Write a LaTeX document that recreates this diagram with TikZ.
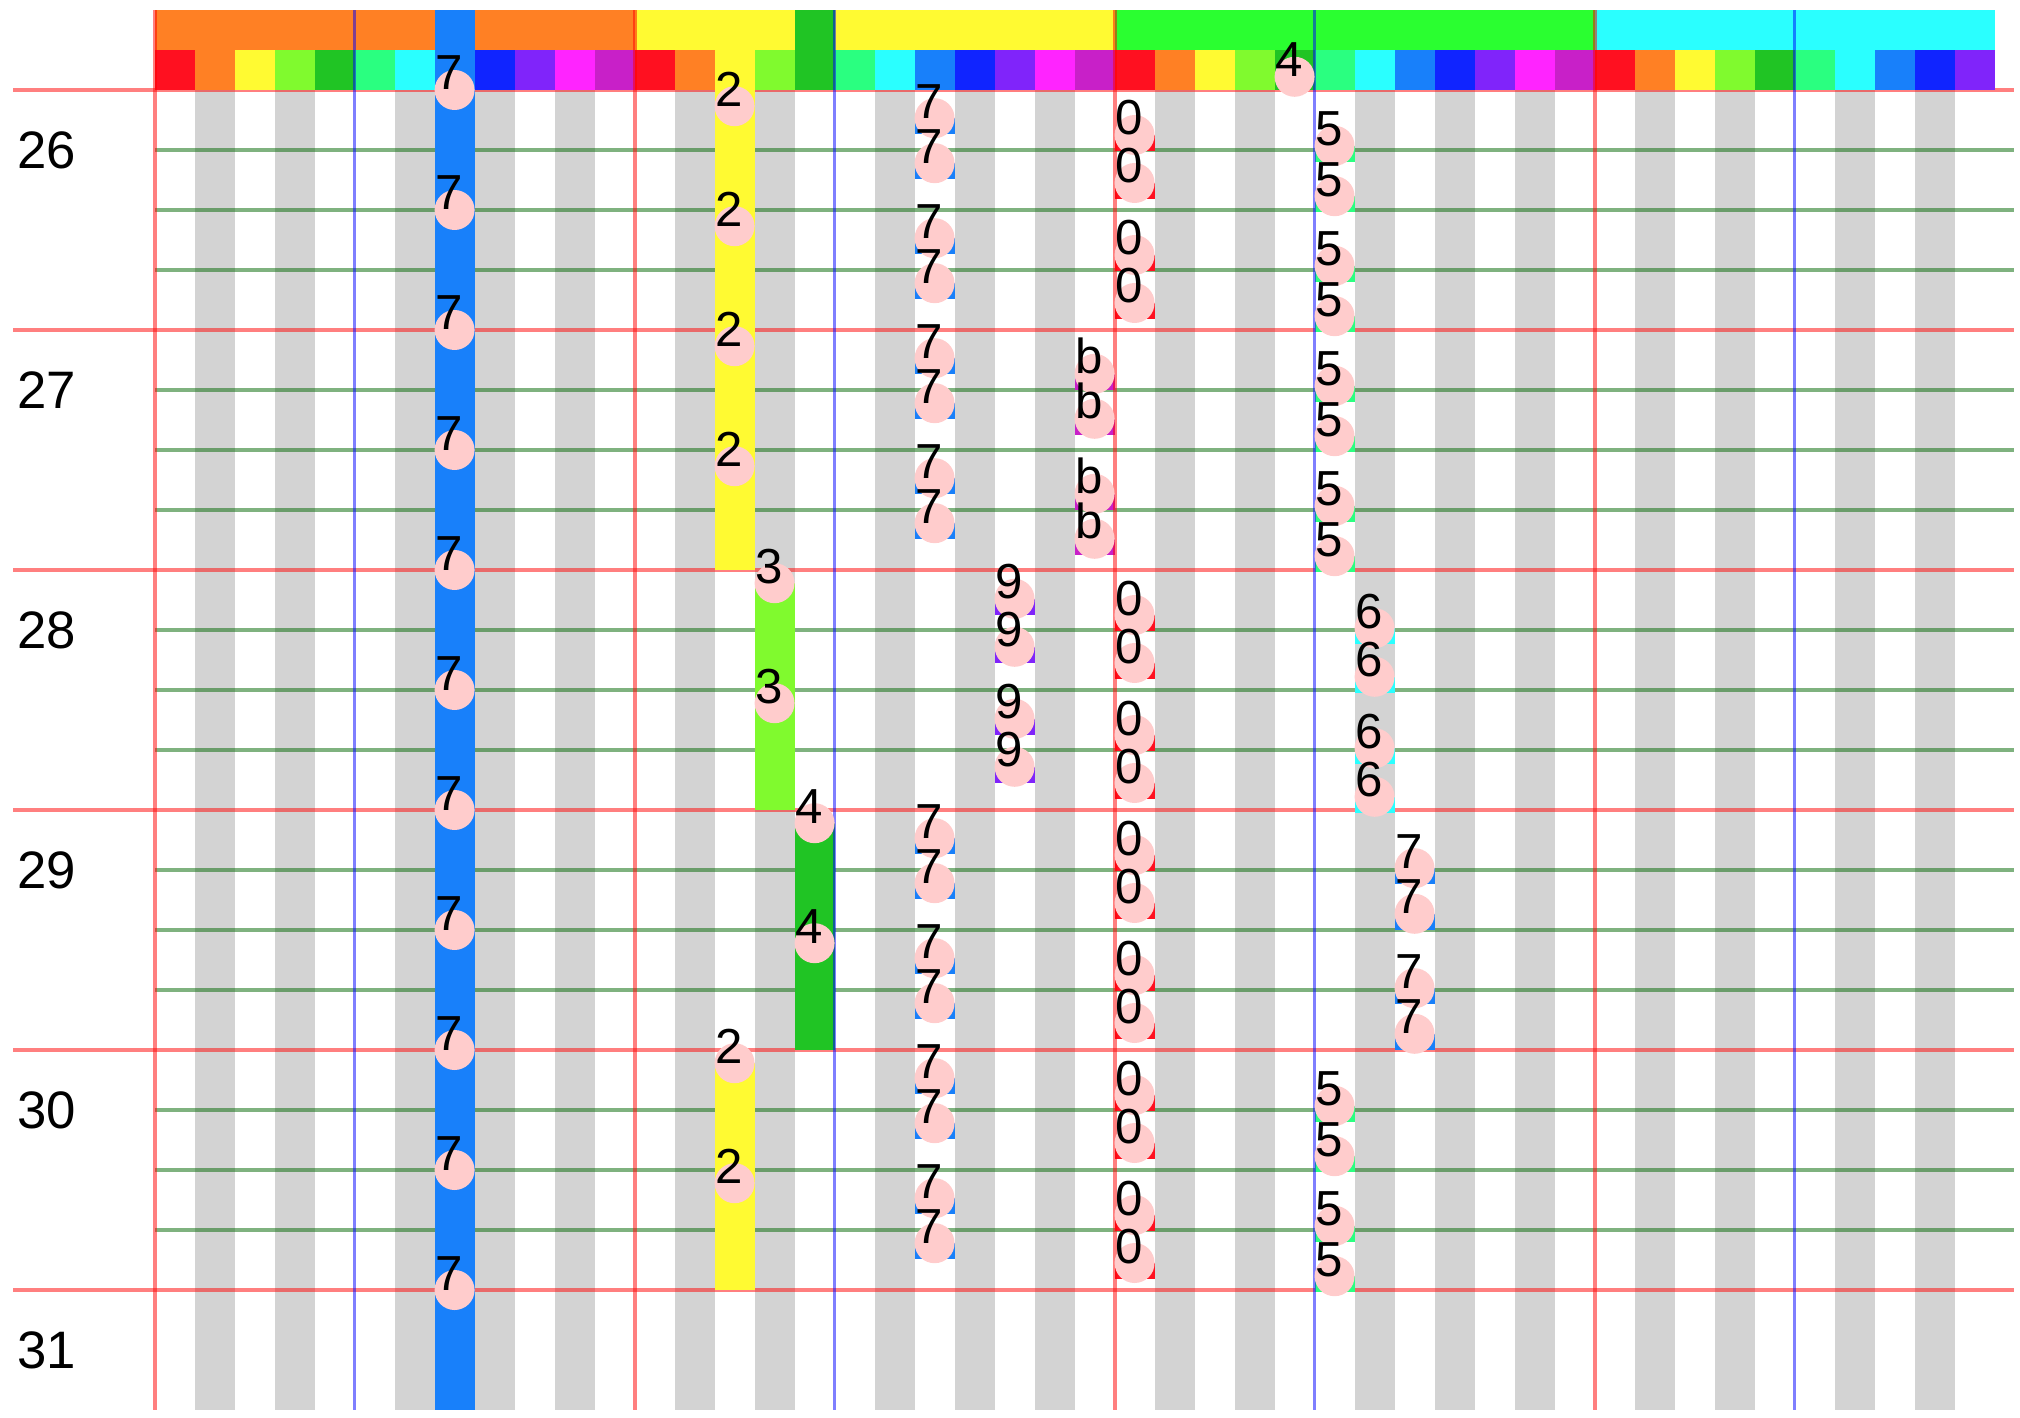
\documentclass[tikz,border=0pt]{standalone}
\usepackage{fontspec}
\setmainfont{Liberation Sans}
\usepackage{tikz}
\usetikzlibrary{positioning}
\definecolor{pc0}{RGB}{255,16,32}
\definecolor{pc1}{RGB}{255,128,36}
\definecolor{pc2}{RGB}{255,250,50}
\definecolor{pc3}{RGB}{128,250,46}
\definecolor{pc4}{RGB}{32,196,36}
\definecolor{pc5}{RGB}{42,255,128}
\definecolor{pc6}{RGB}{42,255,255}
\definecolor{pc7}{RGB}{24,128,250}
\definecolor{pc8}{RGB}{16,36,255}
\definecolor{pc9}{RGB}{128,36,250}
\definecolor{pc10}{RGB}{255,36,255}
\definecolor{pc11}{RGB}{200,32,200}
\definecolor{vert}{RGB}{42,255,48}
\definecolor{touche}{RGB}{211,211,211}
\definecolor{rose}{RGB}{255,204,204}

\begin{document}
\begin{tikzpicture}[font=\fontsize{14}{16}\selectfont,
    notedot/.style={circle,fill=rose,minimum size=0.4cm,inner sep=0pt},
    notelab/.style={anchor=base west,inner sep=0pt},
    rowlab/.style={font=\fontsize{15}{18}\selectfont,inner sep=0pt},
    redline/.style={red,draw opacity=0.5,line width=1.1pt},
    greenline/.style={green!40!black,draw opacity=0.5,line width=0.9pt},
    blueline/.style={blue,draw opacity=0.5,line width=0.8pt}]
\useasboundingbox (0,0) rectangle (20.2,-14.18);
\begin{scope}[shift={(1.546cm,-0.9cm)},x=0.4cm,y=-0.6cm]
% touches noires
\foreach \o in {0,12,24,36}
  \foreach \s in {1,3,6,8,10}{
    \pgfmathtruncatemacro\c{\o+\s}
    \ifnum\c<46 \fill[touche] (\c,0) rectangle (\c+1,22); \fi
  }
% lignes de temps
\foreach \k in {0,...,20}{
  \pgfmathtruncatemacro\m{mod(\k,4)}
  \ifnum\m=0 \draw[redline] (-3.54,\k) -- (46.49,\k);
  \else \draw[greenline] (0,\k) -- (46.49,\k); \fi
}
% en-tete
\fill[pc1] (0,-1.333) rectangle (12,-0.667);
\fill[pc2] (12,-1.333) rectangle (24,-0.667);
\fill[vert] (24,-1.333) rectangle (36,-0.667);
\fill[pc6] (36,-1.333) rectangle (46,-0.667);
\fill[pc4] (16,-1.333) rectangle (17,-0.667);
\foreach \c in {0,...,45}{
  \pgfmathtruncatemacro\p{mod(\c,12)}
  \fill[pc\p] (\c,-0.667) rectangle (\c+1,0);
}
% notes longues
\fill[pc7] (7,-1.333) rectangle (8,22);
\fill[pc2] (14,-1.333) rectangle (15,8);
\fill[pc2] (14,16.22) rectangle (15,20);
\fill[pc3] (15,8.22) rectangle (16,12);
\fill[pc4] (16,12.22) rectangle (17,16);
% notes courtes
\foreach \t in {0,2,4,6,12,14,16,18} \foreach \d in {0.47,1.22} \fill[pc7] (19,\t+\d) rectangle (20,\t+\d+0.27);
\foreach \t in {8,10} \foreach \d in {0.48,1.28} \fill[pc9] (21,\t+\d) rectangle (22,\t+\d+0.27);
\foreach \t in {4,6} \foreach \d in {0.73,1.48} \fill[pc11] (23,\t+\d) rectangle (24,\t+\d+0.27);
\foreach \t in {0,2,8,10,12,14,16,18} \foreach \d in {0.75,1.55} \fill[pc0] (24,\t+\d) rectangle (25,\t+\d+0.27);
\foreach \t in {0,2,4,6,16,18} \foreach \d in {0.93,1.77} \fill[pc5] (29,\t+\d) rectangle (30,\t+\d+0.27);
\foreach \t in {8,10} \foreach \d in {0.97,1.78} \fill[pc6] (30,\t+\d) rectangle (31,\t+\d+0.27);
\foreach \t in {12,14} \foreach \d in {0.97,1.73} \fill[pc7] (31,\t+\d) rectangle (32,\t+\d+0.27);
% separations
\foreach \c in {0,12,24,36} \draw[redline] (\c,-1.333) -- (\c,22);
\foreach \c in {5,17,29,41} \draw[blueline] (\c,-1.333) -- (\c,22);
% etiquettes des notes
\foreach \t [count=\i] in {0,2,...,20}{
  \node[notedot] (sol-\i) at (7.5,\t) {};
  \node[notelab] (t-sol-\i) at (7,\t) {7};
}
\foreach \t [count=\i] in {0.27,2.27,4.27,6.27,16.22,18.22}{
  \node[notedot] (re-\i) at (14.5,\t) {};
  \node[notelab] (t-re-\i) at (14,\t) {2};
}
\foreach \t [count=\i] in {8.22,10.22}{
  \node[notedot] (mib-\i) at (15.5,\t) {};
  \node[notelab] (t-mib-\i) at (15,\t) {3};
}
\foreach \t [count=\i] in {12.22,14.22}{
  \node[notedot] (mi-\i) at (16.5,\t) {};
  \node[notelab] (t-mi-\i) at (16,\t) {4};
}
\node[notedot] (mi-h) at (28.5,-0.22) {};
\node[notelab] (t-mi-h) at (28,-0.22) {4};
\foreach \t [count=\i] in {0,2,4,6,12,14,16,18}
  \foreach \d [count=\j] in {0.47,1.22}{
    \node[notedot] (solb-\i-\j) at (19.5,\t+\d) {};
    \node[notelab] (t-solb-\i-\j) at (19,\t+\d) {7};
  }
\foreach \t [count=\i] in {8,10}
  \foreach \d [count=\j] in {0.48,1.28}{
    \node[notedot] (la-\i-\j) at (21.5,\t+\d) {};
    \node[notelab] (t-la-\i-\j) at (21,\t+\d) {9};
  }
\foreach \t [count=\i] in {4,6}
  \foreach \d [count=\j] in {0.73,1.48}{
    \node[notedot] (si-\i-\j) at (23.5,\t+\d) {};
    \node[notelab] (t-si-\i-\j) at (23,\t+\d) {b};
  }
\foreach \t [count=\i] in {0,2,8,10,12,14,16,18}
  \foreach \d [count=\j] in {0.75,1.55}{
    \node[notedot] (do-\i-\j) at (24.5,\t+\d) {};
    \node[notelab] (t-do-\i-\j) at (24,\t+\d) {0};
  }
\foreach \t [count=\i] in {0,2,4,6,16,18}
  \foreach \d [count=\j] in {0.93,1.77}{
    \node[notedot] (fa-\i-\j) at (29.5,\t+\d) {};
    \node[notelab] (t-fa-\i-\j) at (29,\t+\d) {5};
  }
\foreach \t [count=\i] in {8,10}
  \foreach \d [count=\j] in {0.97,1.78}{
    \node[notedot] (fad-\i-\j) at (30.5,\t+\d) {};
    \node[notelab] (t-fad-\i-\j) at (30,\t+\d) {6};
  }
\foreach \t [count=\i] in {12,14}
  \foreach \d [count=\j] in {0.97,1.73}{
    \node[notedot] (solh-\i-\j) at (31.5,\t+\d) {};
    \node[notelab] (t-solh-\i-\j) at (31,\t+\d) {7};
  }
% numeros de mesure
\foreach \n [count=\i from 0] in {26,...,31}
  \node[rowlab] (mes-\n) at (-2.7,4*\i+1) {\n};
\end{scope}
\end{tikzpicture}
\end{document}
